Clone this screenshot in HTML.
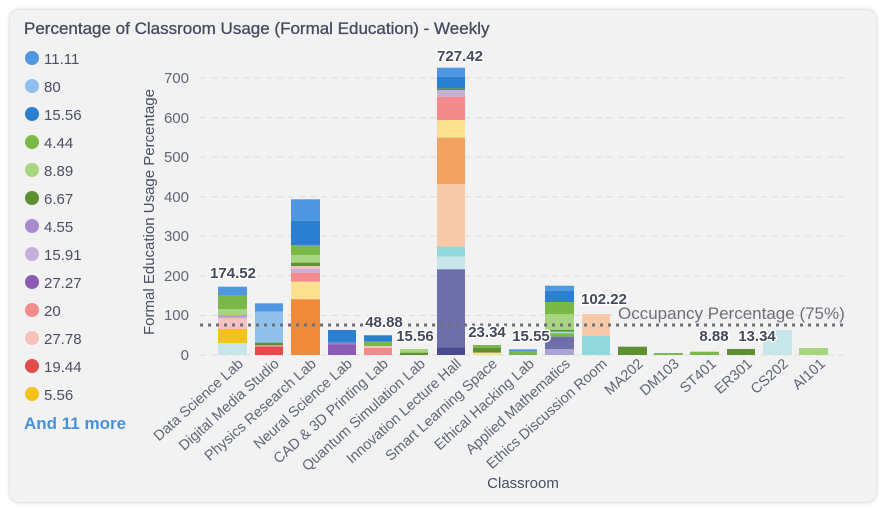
<!DOCTYPE html>
<html><head><meta charset="utf-8"><style>
html,body{margin:0;padding:0;background:#fff;}
body{width:887px;height:513px;overflow:hidden;font-family:"Liberation Sans",sans-serif;}
.card{position:absolute;left:10px;top:10px;width:866px;height:492px;background:#f2f2f2;border-radius:9px;box-shadow:0 0 4px rgba(0,0,0,.25);}
</style></head><body>
<div class="card"></div>
<svg width="887" height="513" style="position:absolute;left:0;top:0" font-family="Liberation Sans, sans-serif">
<text x="24" y="34" font-size="17" fill="#454a5e" stroke="#454a5e" stroke-width="0.3">Percentage of Classroom Usage (Formal Education) - Weekly</text>
<g font-size="15" fill="#4a4f63">
<circle cx="32" cy="58" r="7" fill="#4f97e0"/><text x="44" y="64">11.11</text>
<circle cx="32" cy="86" r="7" fill="#8fbfea"/><text x="44" y="92">80</text>
<circle cx="32" cy="114" r="7" fill="#2b7fd0"/><text x="44" y="120">15.56</text>
<circle cx="32" cy="142" r="7" fill="#7ab84a"/><text x="44" y="148">4.44</text>
<circle cx="32" cy="170" r="7" fill="#a6d47f"/><text x="44" y="176">8.89</text>
<circle cx="32" cy="198" r="7" fill="#5e8f32"/><text x="44" y="204">6.67</text>
<circle cx="32" cy="226" r="7" fill="#a98bd0"/><text x="44" y="232">4.55</text>
<circle cx="32" cy="254" r="7" fill="#c5b0dd"/><text x="44" y="260">15.91</text>
<circle cx="32" cy="282" r="7" fill="#8c5bb5"/><text x="44" y="288">27.27</text>
<circle cx="32" cy="310" r="7" fill="#f28b8b"/><text x="44" y="316">20</text>
<circle cx="32" cy="338" r="7" fill="#f8c1b8"/><text x="44" y="344">27.78</text>
<circle cx="32" cy="366" r="7" fill="#e14b4b"/><text x="44" y="372">19.44</text>
<circle cx="32" cy="394" r="7" fill="#f5c21a"/><text x="44" y="400">5.56</text>
</g>
<text x="24" y="429" font-size="17" font-weight="bold" fill="#4a90d9">And 11 more</text>
<g stroke="#dcdcdc" stroke-dasharray="6,5" stroke-width="1">
<line x1="200" x2="848" y1="78" y2="78"/><line x1="200" x2="848" y1="117.6" y2="117.6"/>
<line x1="200" x2="848" y1="157.1" y2="157.1"/><line x1="200" x2="848" y1="196.7" y2="196.7"/>
<line x1="200" x2="848" y1="236.3" y2="236.3"/><line x1="200" x2="848" y1="275.9" y2="275.9"/>
<line x1="200" x2="848" y1="315.4" y2="315.4"/><line x1="200" x2="848" y1="355" y2="355"/>
</g>
<g font-size="15" fill="#606676" text-anchor="end">
<text x="189" y="83">700</text><text x="189" y="123">600</text><text x="189" y="162">500</text>
<text x="189" y="202">400</text><text x="189" y="241">300</text><text x="189" y="281">200</text>
<text x="189" y="320">100</text><text x="189" y="360">0</text>
</g>
<text transform="translate(154,212) rotate(-90)" text-anchor="middle" font-size="15" fill="#4a4f63">Formal Education Usage Percentage</text>
<g>
<rect x="218" width="29" y="286.7" height="8.3" fill="#4f97e0"/><rect x="218" width="29" y="295" height="14" fill="#7ab84a"/>
<rect x="218" width="29" y="309" height="6" fill="#a6d47f"/><rect x="218" width="29" y="315" height="3" fill="#b9a2d4"/>
<rect x="218" width="29" y="318" height="11" fill="#f6c1c1"/><rect x="218" width="29" y="329" height="14" fill="#f5c21a"/>
<rect x="218" width="29" y="343" height="12" fill="#c8e6ea"/>

<rect x="255" width="28" y="303.3" height="8.4" fill="#4f97e0"/><rect x="255" width="28" y="311.7" height="31" fill="#8fbfea"/>
<rect x="255" width="28" y="342.7" height="2.3" fill="#5e8f32"/><rect x="255" width="28" y="345" height="1.7" fill="#f28b8b"/>
<rect x="255" width="28" y="346.7" height="8.3" fill="#e14b4b"/>

<rect x="291" width="29" y="199.3" height="21.4" fill="#4f97e0"/><rect x="291" width="29" y="220.7" height="24.3" fill="#2b7fd0"/>
<rect x="291" width="29" y="245" height="10" fill="#7ab84a"/><rect x="291" width="29" y="255" height="7.7" fill="#a6d47f"/>
<rect x="291" width="29" y="262.7" height="3.3" fill="#5e8f32"/><rect x="291" width="29" y="266" height="3" fill="#f6c1c1"/>
<rect x="291" width="29" y="269" height="3.7" fill="#c5b0dd"/><rect x="291" width="29" y="272.7" height="9" fill="#f28b8b"/>
<rect x="291" width="29" y="281.7" height="17.6" fill="#fbe08f"/><rect x="291" width="29" y="299.3" height="55.7" fill="#ee8a3a"/>

<rect x="328" width="28" y="330" height="12.7" fill="#2b7fd0"/><rect x="328" width="28" y="342.7" height="1.6" fill="#9b7fc6"/>
<rect x="328" width="28" y="344.3" height="10.7" fill="#8c5bb5"/>

<rect x="364" width="28" y="335.3" height="6.4" fill="#2b7fd0"/><rect x="364" width="28" y="341.7" height="4.3" fill="#7ab84a"/>
<rect x="364" width="28" y="346" height="2" fill="#f6c1c1"/><rect x="364" width="28" y="348" height="7" fill="#f28b8b"/>

<rect x="400" width="28" y="349" height="3.7" fill="#a6d47f"/><rect x="400" width="28" y="352.7" height="2.3" fill="#5e8f32"/>

<rect x="437" width="28" y="67.7" height="9" fill="#4f97e0"/><rect x="437" width="28" y="76.7" height="11.6" fill="#2b7fd0"/>
<rect x="437" width="28" y="88.3" height="1.7" fill="#5e8f32"/><rect x="437" width="28" y="90" height="6.7" fill="#c5b0dd"/>
<rect x="437" width="28" y="96.7" height="23.3" fill="#f28b8b"/><rect x="437" width="28" y="120" height="17.7" fill="#fbe08f"/>
<rect x="437" width="28" y="137.7" height="46.3" fill="#f4a261"/><rect x="437" width="28" y="184" height="62.7" fill="#f8c9a8"/>
<rect x="437" width="28" y="246.7" height="10" fill="#92d9db"/><rect x="437" width="28" y="256.7" height="12.6" fill="#c8e6ea"/>
<rect x="437" width="28" y="269.3" height="78" fill="#6e6eaa"/><rect x="437" width="28" y="347.3" height="7.7" fill="#4a4a8c"/>

<rect x="473" width="28" y="345" height="2.7" fill="#7ab84a"/><rect x="473" width="28" y="347.7" height="5" fill="#5e8f32"/>
<rect x="473" width="28" y="352.7" height="2.3" fill="#fbe08f"/>

<rect x="509" width="28" y="349.3" height="2.4" fill="#4f97e0"/><rect x="509" width="28" y="351.7" height="3.3" fill="#7ab84a"/>

<rect x="545" width="29" y="285.7" height="5" fill="#4f97e0"/><rect x="545" width="29" y="290.7" height="11.3" fill="#2b7fd0"/>
<rect x="545" width="29" y="302" height="12" fill="#7ab84a"/><rect x="545" width="29" y="314" height="16" fill="#a6d47f"/>
<rect x="545" width="29" y="330" height="1.7" fill="#5e8f32"/><rect x="545" width="29" y="331.7" height="1.6" fill="#92d9db"/>
<rect x="545" width="29" y="333.3" height="3.4" fill="#7ab84a"/><rect x="545" width="29" y="336.7" height="12.3" fill="#6e6eaa"/>
<rect x="545" width="29" y="349" height="6" fill="#a9a4d4"/>

<rect x="582" width="28" y="314" height="22" fill="#f8c9a8"/><rect x="582" width="28" y="336" height="19" fill="#92d9db"/>
<rect x="618" width="29" y="346.7" height="8.3" fill="#5e8f32"/>
<rect x="654" width="29" y="353" height="2" fill="#7ab84a"/>
<rect x="690" width="29" y="351.7" height="3.3" fill="#7ab84a"/>
<rect x="727" width="28" y="349" height="6" fill="#5e8f32"/>
<rect x="763" width="29" y="330" height="25" fill="#c8e6ea"/>
<rect x="799" width="29" y="348" height="7" fill="#a6d47f"/>
</g>
<line x1="200" x2="848" y1="325" y2="325" stroke="#6e7079" stroke-width="3" stroke-dasharray="3,5"/>
<text x="618" y="319" font-size="17" fill="#6e7079">Occupancy Percentage (75%)</text>
<g font-size="15" font-weight="bold" fill="#444a5a" text-anchor="middle" stroke="#ffffff" stroke-width="3" paint-order="stroke" stroke-linejoin="round">
<text x="233" y="278">174.52</text><text x="460" y="61">727.42</text><text x="384" y="327">48.88</text>
<text x="415" y="341">15.56</text><text x="487" y="337">23.34</text><text x="531" y="341">15.55</text>
<text x="604" y="304">102.22</text><text x="714" y="341">8.88</text><text x="757" y="341">13.34</text>
</g>
<g font-size="14.5" fill="#606676" text-anchor="end">
<text transform="translate(244,365) rotate(-42)">Data Science Lab</text>
<text transform="translate(280,365) rotate(-42)">Digital Media Studio</text>
<text transform="translate(317,365) rotate(-42)">Physics Research Lab</text>
<text transform="translate(353,365) rotate(-42)">Neural Science Lab</text>
<text transform="translate(389,365) rotate(-42)">CAD &amp; 3D Printing Lab</text>
<text transform="translate(426,365) rotate(-42)">Quantum Simulation Lab</text>
<text transform="translate(462,365) rotate(-42)">Innovation Lecture Hall</text>
<text transform="translate(498,365) rotate(-42)">Smart Learning Space</text>
<text transform="translate(535,365) rotate(-42)">Ethical Hacking Lab</text>
<text transform="translate(571,365) rotate(-42)">Applied Mathematics</text>
<text transform="translate(608,365) rotate(-42)">Ethics Discussion Room</text>
<text transform="translate(644,365) rotate(-42)">MA202</text>
<text transform="translate(680,365) rotate(-42)">DM103</text>
<text transform="translate(717,365) rotate(-42)">ST401</text>
<text transform="translate(753,365) rotate(-42)">ER301</text>
<text transform="translate(789,365) rotate(-42)">CS202</text>
<text transform="translate(826,365) rotate(-42)">AI101</text>
</g>
<text x="523" y="488" text-anchor="middle" font-size="15" fill="#4a4f63">Classroom</text>
</svg>
</body></html>
